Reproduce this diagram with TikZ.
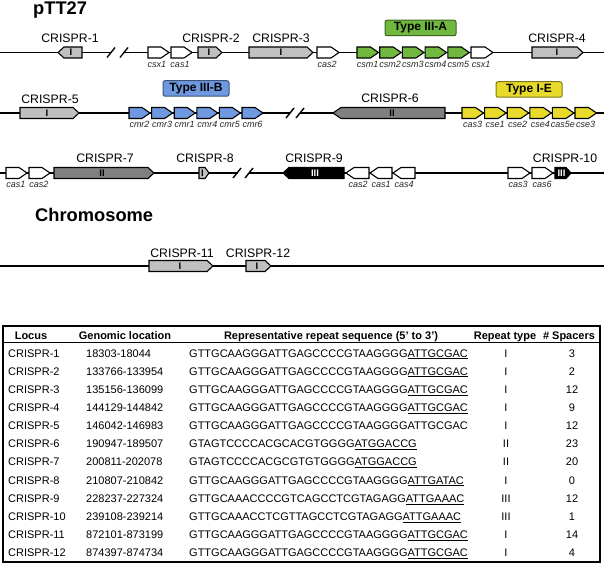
\documentclass[tikz,border=0pt]{standalone}
\usepackage{fontspec}
\setmainfont{Liberation Sans}
\definecolor{gI}{RGB}{192,192,192}
\definecolor{gII}{RGB}{128,128,128}
\definecolor{grn}{RGB}{112,184,64}
\definecolor{blu}{RGB}{110,152,224}
\definecolor{ylw}{RGB}{232,218,42}
\newcommand{\Rgene}[5]{%
  \draw[gbox,fill=#4] ({#1},{#3-5.5}) -- ({#2-#5},{#3-5.5}) -- ({#2},{#3}) -- ({#2-#5},{#3+5.5}) -- ({#1},{#3+5.5}) -- cycle;}
\newcommand{\Lgene}[5]{%
  \draw[gbox,fill=#4] ({#2},{#3-5.5}) -- ({#1+#5},{#3-5.5}) -- ({#1},{#3}) -- ({#1+#5},{#3+5.5}) -- ({#2},{#3+5.5}) -- cycle;}
\newcommand{\trow}[6]{%
  \node[tcell,anchor=base west] (l#1) at (8,{357+(#1-1)*18.15}) {#2};
  \node[tcell,anchor=base west] (g#1) at (86,{357+(#1-1)*18.15}) {#3};
  \node[tcell,anchor=base west] (s#1) at (189,{357+(#1-1)*18.15}) {#4};
  \node[tcell,anchor=base] (r#1) at (506,{357+(#1-1)*18.15}) {#5};
  \node[tcell,anchor=base] (n#1) at (572,{357+(#1-1)*18.15}) {#6};}
\tikzset{
  gbox/.style={draw=black,line width=1.1pt,line join=miter},
  backbone/.style={line width=1.8pt},
  brk/.style={line width=1.4pt},
  clab/.style={inner sep=0pt,anchor=base,font=\fontsize{12.3}{14}\selectfont},
  glab/.style={inner sep=0pt,anchor=base,text=black!85,font=\fontsize{9}{10}\selectfont\itshape},
  romn/.style={inner sep=0pt,font=\fontsize{9.5}{10}\selectfont\bfseries},
  title/.style={inner sep=0pt,anchor=base west,font=\fontsize{18.3}{20}\selectfont\bfseries},
  typebox/.style={rounded corners=2pt,line width=1pt,minimum height=15.5pt,inner sep=0pt,font=\fontsize{12}{14}\selectfont\bfseries},
  tcell/.style={inner sep=0pt,font=\fontsize{11}{13}\selectfont},
  thead/.style={inner sep=0pt,anchor=base,font=\fontsize{11}{13}\selectfont\bfseries}
}
\begin{document}
\begin{tikzpicture}[x=1pt,y=-1pt]
\useasboundingbox (0,0) rectangle (604,564);
% titles
\node[title] (tp) at (33,14.5) {pTT27};
\node[title] (tc) at (35,221) {Chromosome};
% ---------------- Row 1 ----------------
\draw[backbone] (0,52.5) -- (111,52.5);
\draw[backbone] (124,52.5) -- (604,52.5);
\draw[brk] (107,57.5) -- (115,47.5);
\draw[brk] (120,57.5) -- (128,47.5);
\Lgene{58}{82}{52.5}{gI}{6}
\node[romn] (m1) at (71,52.5) {I};
\node[clab] (c1) at (70,42.5) {CRISPR-1};
\Rgene{148}{169}{52.5}{white}{8}
\node[glab] (a1) at (157,68) {csx1};
\Rgene{171}{192}{52.5}{white}{8}
\node[glab] (a2) at (180,68) {cas1};
\Rgene{198}{222}{52.5}{gI}{6}
\node[romn] (m2) at (209,52.5) {I};
\node[clab] (c2) at (211,42.5) {CRISPR-2};
\Rgene{249}{313}{52.5}{gI}{6}
\node[romn] (m3) at (281,52.5) {I};
\node[clab] (c3) at (281,42.5) {CRISPR-3};
\Rgene{317}{339}{52.5}{white}{8}
\node[glab] (a3) at (327,68) {cas2};
\foreach \n [count=\k from 0] in {csm1,csm2,csm3,csm4,csm5} {
  \Rgene{357+22.7*\k}{357+22.7*\k+21.5}{52.5}{grn}{8}
  \node[glab] (lab\n) at (357+22.7*\k+10.5,68) {\n};
}
\Rgene{471}{493}{52.5}{white}{8}
\node[glab] (a4) at (481,68) {csx1};
\Rgene{532}{583}{52.5}{gI}{6}
\node[romn] (m4) at (557,52.5) {I};
\node[clab] (c4) at (557,42.5) {CRISPR-4};
\node[typebox,draw=grn!55!black,fill=grn,minimum width=71pt] (t1) at (420.5,28) {Type III-A};
% ---------------- Row 2 ----------------
\draw[backbone] (0,113) -- (290,113);
\draw[backbone] (300,113) -- (604,113);
\draw[brk] (286,118) -- (294,108);
\draw[brk] (296,118) -- (304,108);
\Rgene{20}{79}{113}{gI}{6}
\node[romn] (m5) at (47,113) {I};
\node[clab] (c5) at (50,104) {CRISPR-5};
\foreach \n [count=\k from 0] in {cmr2,cmr3,cmr1,cmr4,cmr5,cmr6} {
  \Rgene{129+22.6*\k}{129+22.6*\k+21}{113}{blu}{8}
  \node[glab] (lab\n) at (129+22.6*\k+10.5,127.5) {\n};
}
\node[typebox,draw=blu!55!black,fill=blu,minimum width=66pt] (t2) at (196,88.5) {Type III-B};
\Lgene{333}{445}{113}{gII}{8}
\node[romn] (m6) at (392,113) {II};
\node[clab] (c6) at (390,103) {CRISPR-6};
\foreach \n [count=\k from 0] in {cas3,cse1,cse2,cse4,cas5e,cse3} {
  \Rgene{462+22.6*\k}{462+22.6*\k+21.5}{113}{ylw}{8}
  \node[glab] (lab\n) at (462+22.6*\k+10.5,127.5) {\n};
}
\node[typebox,draw=ylw!55!black,fill=ylw,minimum width=66pt] (t3) at (529,89.5) {Type I-E};
% ---------------- Row 3 ----------------
\draw[backbone] (0,173) -- (237.5,173);
\draw[backbone] (249,173) -- (604,173);
\draw[brk] (233,178) -- (241,168);
\draw[brk] (245,178) -- (253,168);
\Rgene{6}{27}{173}{white}{8}
\node[glab] (b1) at (16,187.5) {cas1};
\Rgene{29}{50}{173}{white}{8}
\node[glab] (b2) at (39,187.5) {cas2};
\Rgene{54}{154}{173}{gII}{6}
\node[romn] (m7) at (102,173) {II};
\node[clab] (c7) at (105,163) {CRISPR-7};
\Rgene{199}{209}{173}{gI}{4}
\node[romn] (m8) at (202.5,173) {I};
\node[clab] (c8) at (205,163) {CRISPR-8};
\Lgene{283}{344}{173}{black}{6}
\node[romn,text=white] (m9) at (315,173) {III};
\node[clab] (c9) at (314,163) {CRISPR-9};
\Lgene{346}{369}{173}{white}{8}
\node[glab] (b3) at (358,187.5) {cas2};
\Lgene{370}{392}{173}{white}{8}
\node[glab] (b4) at (381,187.5) {cas1};
\Lgene{393}{415}{173}{white}{8}
\node[glab] (b5) at (404,187.5) {cas4};
\Rgene{508}{530}{173}{white}{8}
\node[glab] (b6) at (518,187.5) {cas3};
\Rgene{532}{553}{173}{white}{8}
\node[glab] (b7) at (542,187.5) {cas6};
\Rgene{555}{571}{173}{black}{5}
\node[romn,text=white] (m10) at (561.5,173) {III};
\node[clab] (c10) at (565,163) {CRISPR-10};
% ---------------- Chromosome ----------------
\draw[backbone] (0,266) -- (604,266);
\Rgene{149}{213}{266}{gI}{6}
\node[romn] (m11) at (180,266) {I};
\node[clab] (c11) at (182,257) {CRISPR-11};
\Rgene{246}{271}{266}{gI}{6}
\node[romn] (m12) at (257,266) {I};
\node[clab] (c12) at (258,257) {CRISPR-12};
% ---------------- Table ----------------
\draw[line width=1.5pt] (3,326) rectangle (600,562);
\draw[line width=1pt] (3,342) -- (600,342);
\node[thead] (h1) at (31,339) {Locus};
\node[thead] (h2) at (125,339) {Genomic location};
\node[thead] (h3) at (331,339) {Representative repeat sequence (5’ to 3’)};
\node[thead] (h4) at (505,339) {Repeat type};
\node[thead] (h5) at (569,339) {\# Spacers};
\trow{1}{CRISPR-1}{18303-18044}{GTTGCAAGGGATTGAGCCCCGTAAGGGG\underline{ATTGCGAC}}{I}{3}
\trow{2}{CRISPR-2}{133766-133954}{GTTGCAAGGGATTGAGCCCCGTAAGGGG\underline{ATTGCGAC}}{I}{2}
\trow{3}{CRISPR-3}{135156-136099}{GTTGCAAGGGATTGAGCCCCGTAAGGGG\underline{ATTGCGAC}}{I}{12}
\trow{4}{CRISPR-4}{144129-144842}{GTTGCAAGGGATTGAGCCCCGTAAGGGG\underline{ATTGCGAC}}{I}{9}
\trow{5}{CRISPR-5}{146042-146983}{GTTGCAAGGGATTGAGCCCCGTAAGGGGATTGCGAC}{I}{12}
\trow{6}{CRISPR-6}{190947-189507}{GTAGTCCCCACGCACGTGGGG\underline{ATGGACCG}}{II}{23}
\trow{7}{CRISPR-7}{200811-202078}{GTAGTCCCCACGCGTGTGGGG\underline{ATGGACCG}}{II}{20}
\trow{8}{CRISPR-8}{210807-210842}{GTTGCAAGGGATTGAGCCCCGTAAGGGG\underline{ATTGATAC}}{I}{0}
\trow{9}{CRISPR-9}{228237-227324}{GTTGCAAACCCCGTCAGCCTCGTAGAGG\underline{ATTGAAAC}}{III}{12}
\trow{10}{CRISPR-10}{239108-239214}{GTTGCAAACCTCGTTAGCCTCGTAGAGG\underline{ATTGAAAC}}{III}{1}
\trow{11}{CRISPR-11}{872101-873199}{GTTGCAAGGGATTGAGCCCCGTAAGGGG\underline{ATTGCGAC}}{I}{14}
\trow{12}{CRISPR-12}{874397-874734}{GTTGCAAGGGATTGAGCCCCGTAAGGGG\underline{ATTGCGAC}}{I}{4}
\end{tikzpicture}
\end{document}
